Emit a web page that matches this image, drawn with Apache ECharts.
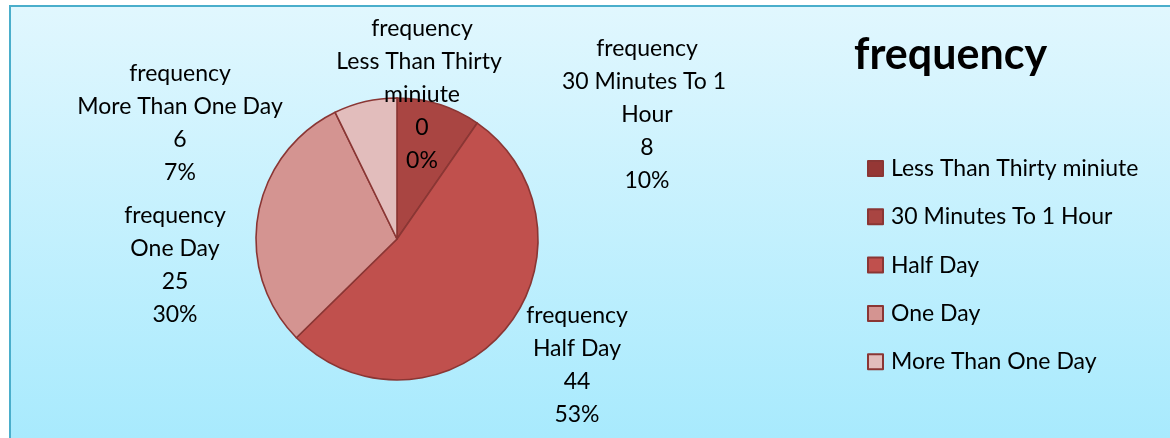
<!DOCTYPE html>
<html>
<head>
<meta charset="utf-8">
<title>frequency</title>
<script src="https://cdn.jsdelivr.net/npm/echarts@6/dist/echarts.min.js"></script>
<style>
  html, body { margin: 0; padding: 0; background: #ffffff; }
  #chart { width: 1170px; height: 438px; }
</style>
</head>
<body>
<div id="chart"></div>
<script>
// Response-time categories and their counts
const seriesName = 'frequency';
const categories = ['Less Than Thirty miniute', '30 Minutes To 1 Hour', 'Half Day', 'One Day', 'More Than One Day'];
const counts = [0, 8, 44, 25, 6];

// Slice fills (dark to light reds)
const sliceColors = ['#953735', '#A94542', '#C0504D', '#D49491', '#E2BDBC'];
// Where each data label block sits (centre of the text block)
const labelCentres = [[422, 95], [647, 115], [577, 365], [175, 265], [180, 123]];
// Wrap width for the longer category names
const labelWidths = [185, 185, null, null, null];

const FONT = 'Lato, "Noto Sans", sans-serif';

const chart = echarts.init(document.getElementById('chart'));

const data = categories.map((name, i) => {
  const item = {
    name: name,
    value: counts[i],
    itemStyle: { color: sliceColors[i] }
  };
  if (labelWidths[i]) {
    item.label = { width: labelWidths[i], overflow: 'break' };
  }
  return item;
});

chart.setOption({
  animation: false,
  graphic: [{
    type: 'rect',
    silent: true,
    z: -10,
    shape: { x: 10, y: 6, width: 1220, height: 500 },
    style: {
      fill: new echarts.graphic.LinearGradient(0, 0, 0, 1, [
        { offset: 0, color: '#E1F7FE' },
        { offset: 1, color: '#9FE8FD' }
      ]),
      stroke: '#4AAECB',
      lineWidth: 2
    }
  }],
  title: {
    text: seriesName,
    left: 849,
    top: 29,
    textStyle: { fontFamily: FONT, fontSize: 43, fontWeight: 'bold', color: '#000' }
  },
  legend: {
    orient: 'vertical',
    left: 862,
    top: 152,
    icon: 'rect',
    itemWidth: 15,
    itemHeight: 15,
    itemGap: 25.3,
    textStyle: { fontFamily: FONT, fontSize: 23, color: '#000', padding: [0, 0, 0, 3] },
    data: categories
  },
  series: [{
    name: seriesName,
    type: 'pie',
    center: [397, 239],
    radius: 141,
    startAngle: 90,
    clockwise: true,
    avoidLabelOverlap: false,
    percentPrecision: 0,
    itemStyle: { borderColor: '#8A3634', borderWidth: 1.6 },
    label: {
      show: true,
      position: 'outside',
      formatter: '{a}\n{b}\n{c}\n{d}%',
      fontFamily: FONT,
      fontSize: 23,
      lineHeight: 33,
      color: '#000',
      align: 'center'
    },
    labelLine: { show: false },
    emphasis: { disabled: true },
    labelLayout: function (params) {
      const c = labelCentres[params.dataIndex];
      return { x: c[0], y: c[1], align: 'center', verticalAlign: 'middle' };
    },
    data: data
  }]
});
</script>
</body>
</html>
